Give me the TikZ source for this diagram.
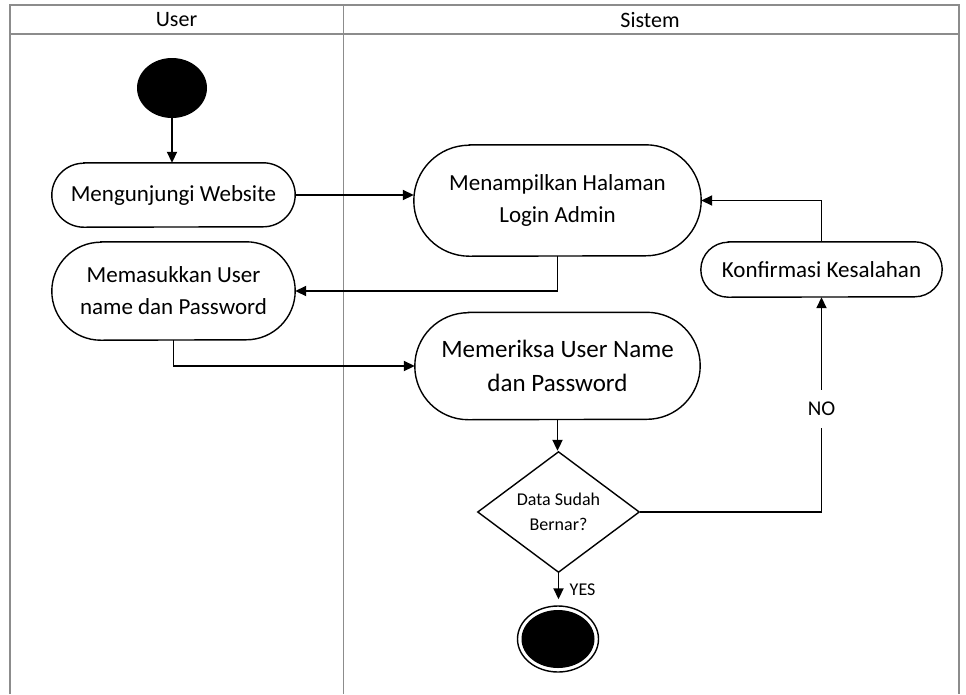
\documentclass[tikz,border=0pt]{standalone}
\usepackage{fontspec}
\setmainfont{Carlito}
\usetikzlibrary{shapes.geometric,arrows.meta,calc}
\definecolor{framegray}{HTML}{8C8C8C}
\begin{document}
\begin{tikzpicture}[x=1pt,y=-1pt,
  frame/.style={draw=framegray, line width=1.4pt},
  outline/.style={line width=1.4pt},
  act/.style={inner sep=0pt, align=center, font=\fontsize{23}{32}\selectfont},
  arr/.style={line width=1.8pt, -{Triangle[length=11pt,width=10pt]}},
  lbl/.style={font=\fontsize{22}{26}\selectfont}]
\useasboundingbox (0,0) rectangle (966,694);
% swimlane frame
\draw[frame] (10,694) -- (10,5) -- (959,5) -- (959,694);
\draw[frame] (10,34) -- (959,34);
\draw[frame] (343.5,5) -- (343.5,694);
\node[lbl] (huser) at (176.5,20) {User};
\node[lbl] (hsys) at (650,20) {Sistem};
% activity nodes
\node[act, minimum width=243pt, minimum height=64pt] (web) at (173.5,195) {Mengunjungi Website};
\node[act, minimum width=287pt, minimum height=111pt] (login) at (557.5,200.5) {Menampilkan Halaman\\Login Admin};
\node[act, minimum width=243pt, minimum height=98pt] (input) at (173.5,291) {Memasukkan User\\name dan Password};
\node[act, font=\fontsize{25}{34}\selectfont, minimum width=285pt, minimum height=107pt] (check) at (557.5,366) {Memeriksa User Name\\dan Password};
\node[act, minimum width=241pt, minimum height=55pt] (err) at (821.5,269.5) {Konfirmasi Kesalahan};
\foreach \n/\rr in {web/32, login/55.5, input/49, check/53.5, err/27.5}
  \draw[outline] ($(\n.north west)+(\rr,0)$) -- ($(\n.north east)+(-\rr,0)$)
    arc[start angle=90, end angle=-90, radius=\rr pt]
    -- ($(\n.south west)+(\rr,0)$)
    arc[start angle=270, end angle=90, radius=\rr pt] -- cycle;
\node[diamond, draw, outline, fill=white, minimum width=162pt, minimum height=111pt, inner sep=0pt,
      align=center, font=\fontsize{18}{25}\selectfont] (dec) at (558.5,512) {Data Sudah\\Bernar?};
\node[ellipse, fill=black, minimum width=70pt, minimum height=60pt, inner sep=0pt] (start) at (172,88) {};
\node[ellipse, draw, outline, fill=white, minimum width=81pt, minimum height=66pt, inner sep=0pt] (end) at (558,639) {};
\node[ellipse, fill=black, minimum width=73pt, minimum height=58pt, inner sep=0pt] (endcore) at (end.center) {};
% connectors
\draw[arr] (start.south) -- (start.south |- web.north);
\draw[arr] (web.east) -- (web.east -| login.west);
\draw[arr] (login.south) |- (input.east);
\draw[arr] (input.south) |- (check.west);
\draw[arr] (check.south) -- (check.south |- dec.north);
\draw[arr] (dec.east) -| node[pos=0.74, fill=white, inner xsep=2pt, inner ysep=12pt,
      font=\fontsize{21}{25}\selectfont] (no) {NO} (err.south);
\draw[arr] (err.north) |- (login.east);
\draw[arr, shorten >=6pt] (dec.south) -- node[right=7pt, font=\fontsize{18}{22}\selectfont] (yes) {YES} (dec.south |- end.north);
\end{tikzpicture}
\end{document}
